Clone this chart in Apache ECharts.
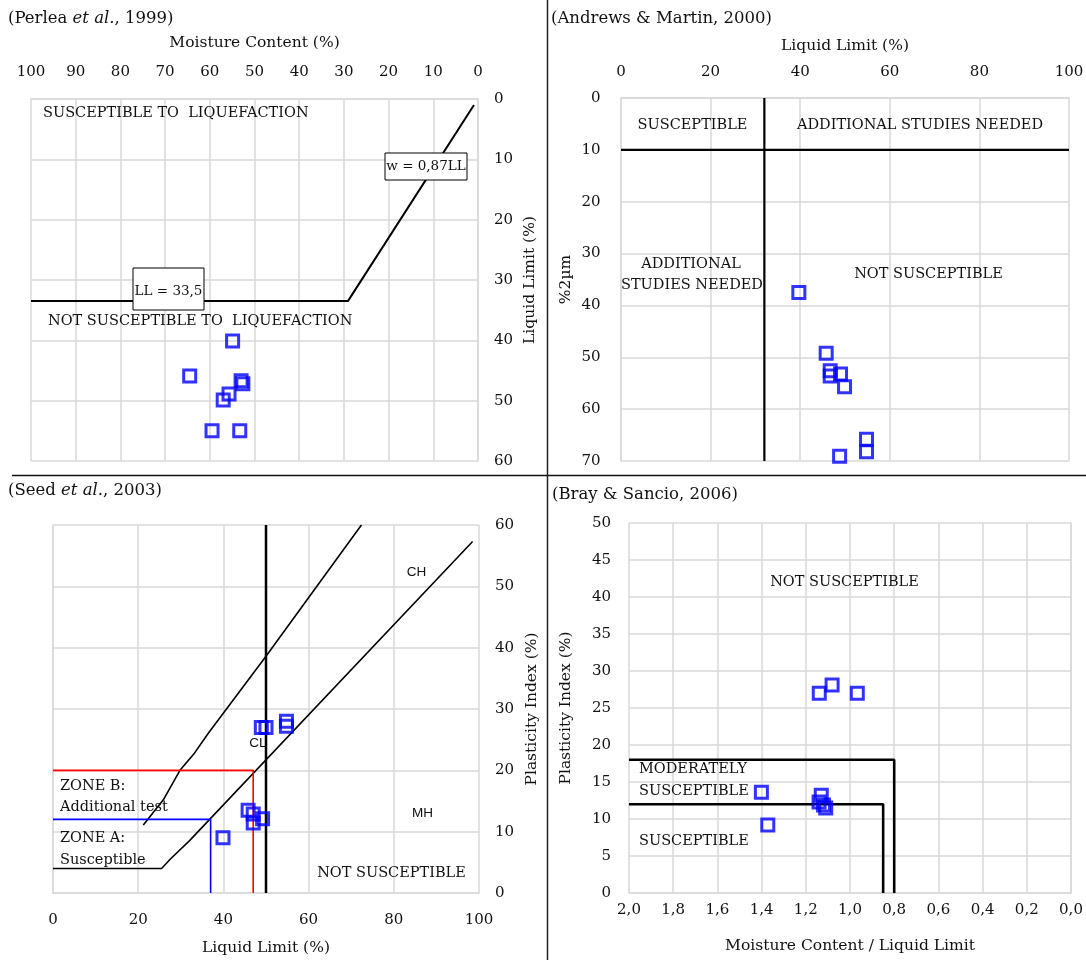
<!DOCTYPE html>
<html>
<head>
<meta charset="utf-8">
<script src="https://cdn.jsdelivr.net/npm/echarts@6/dist/echarts.min.js"></script>
<style>
  html, body { margin: 0; padding: 0; background: #fff; }
  #chart { width: 1086px; height: 960px; }
</style>
</head>
<body>
<div id="chart"></div>
<script>
// ---- Perlea et al. (1999): moisture content (%) vs liquid limit (%) ----
const perleaMoisture = [54.9, 64.5, 53.0, 52.6, 55.7, 57.0, 59.5, 53.3];
const perleaLL       = [40.1, 45.9, 46.7, 47.2, 48.9, 49.9, 55.0, 55.0];
const perleaBoundaryW  = [100, 29.1, 0.9];
const perleaBoundaryLL = [33.5, 33.5, 1.0];

// ---- Andrews & Martin (2000): liquid limit (%) vs clay fraction %2µm ----
const andrewsLL   = [39.7, 45.8, 46.7, 46.7, 49.0, 49.9, 54.8, 54.8, 48.8];
const andrewsClay = [37.5, 49.2, 52.6, 53.6, 53.2, 55.7, 65.8, 68.2, 69.1];
const andrewsLimitLL   = 32;
const andrewsLimitClay = 10;

// ---- Seed et al. (2003): liquid limit (%) vs plasticity index (%) ----
const seedLL = [39.9, 45.8, 47.0, 47.0, 49.2, 48.9, 50.0, 54.8, 54.8];
const seedPI = [9.0, 13.5, 12.9, 11.4, 12.1, 27.0, 27.0, 28.0, 27.2];
const seedALineLL = [0, 25.5, 27.5, 32, 98.5];
const seedALinePI = [4, 4, 5.5, 8.5, 57.3];
const seedULineLL = [21.2, 25.9, 29.9, 33.2, 36.5, 50, 72.4];
const seedULinePI = [11.1, 15.2, 20.1, 22.8, 26.1, 38.6, 60];
const seedZoneALL = [0, 37, 37];
const seedZoneAPI = [12, 12, 0];
const seedZoneBLL = [0, 47, 47];
const seedZoneBPI = [20, 20, 0];
const seedLimitLL = [50, 50];
const seedLimitPI = [0, 60];

// ---- Bray & Sancio (2006): w/LL vs plasticity index (%) ----
const brayRatio = [1.139, 1.081, 0.967, 1.401, 1.372, 1.13, 1.14, 1.12, 1.11];
const brayPI    = [27.0, 28.1, 27.0, 13.6, 9.2, 13.2, 12.3, 11.9, 11.5];
const brayModerateRatio = [2.0, 0.8, 0.8];
const brayModeratePI    = [18, 18, 0];
const braySusceptRatio  = [2.0, 0.85, 0.85];
const braySusceptPI     = [12, 12, 0];

const SERIF = 'DejaVu Serif';
const SANS = 'Liberation Sans';
const INK = '#111';
const GRIDC = '#d9d9d9';

function pairs(xs, ys) { return xs.map((x, i) => [x, ys[i]]); }

function axis(opts, labelOpts, nameOpts) {
  return Object.assign({
    type: 'value',
    axisLine: { show: true, lineStyle: { color: GRIDC, width: 1.5 } },
    axisTick: { show: false },
    splitLine: { show: true, lineStyle: { color: GRIDC, width: 1.5 } },
    axisLabel: Object.assign({ color: INK, fontFamily: SERIF, fontSize: 15 }, labelOpts || {}),
    nameLocation: 'middle',
    nameTextStyle: Object.assign({ color: INK, fontFamily: SERIF, fontSize: 15.5 }, nameOpts || {})
  }, opts);
}

function samples(idx, xs, ys) {
  return {
    type: 'scatter', xAxisIndex: idx, yAxisIndex: idx,
    data: pairs(xs, ys),
    symbol: 'rect', symbolSize: 12,
    itemStyle: { color: 'rgba(0,0,0,0)', borderColor: '#0000ff', borderWidth: 3 },
    z: 5
  };
}

function boundary(idx, xs, ys, color, width) {
  return {
    type: 'line', xAxisIndex: idx, yAxisIndex: idx,
    data: pairs(xs, ys), symbol: 'none', silent: true,
    lineStyle: { color: color, width: width }, z: 3
  };
}

function text(str, x, y, extra) {
  const st = Object.assign({
    text: str, fontFamily: SERIF, fontSize: 15, fill: INK,
    align: 'left', textAlign: 'left', verticalAlign: 'middle', textVerticalAlign: 'middle'
  }, extra || {});
  if (st.align !== 'left') st.textAlign = st.align;
  return { type: 'text', x: x, y: y, z: 60, style: st };
}
function center(str, x, y, extra) { return text(str, x, y, Object.assign({ align: 'center' }, extra || {})); }

function panelTitle(str, left, top) {
  return {
    text: str, left: left, top: top, padding: 0,
    textStyle: {
      fontFamily: SERIF, fontSize: 16.5, fontWeight: 'normal', color: INK,
      rich: { i: { fontFamily: SERIF, fontSize: 16.5, fontStyle: 'italic', color: INK } }
    }
  };
}

const option = {
  animation: false,
  backgroundColor: '#fff',
  textStyle: { fontFamily: SERIF },
  title: [
    panelTitle('(Perlea {i|et al.}, 1999)', 8, 10),
    panelTitle('(Andrews & Martin, 2000)', 551, 10),
    panelTitle('(Seed {i|et al.}, 2003)', 8, 482),
    panelTitle('(Bray & Sancio, 2006)', 552, 486)
  ],
  grid: [
    { left: 31,  top: 99,  width: 447, height: 362, outerBoundsMode: 'none' },
    { left: 621, top: 98,  width: 448, height: 363, outerBoundsMode: 'none' },
    { left: 53,  top: 525, width: 426, height: 368, outerBoundsMode: 'none' },
    { left: 629, top: 523, width: 442, height: 370, outerBoundsMode: 'none' }
  ],
  xAxis: [
    axis({ gridIndex: 0, position: 'top', inverse: true, min: 0, max: 100, interval: 10,
           name: 'Moisture Content (%)', nameGap: 48.5 }, { margin: 19 }),
    axis({ gridIndex: 1, position: 'top', min: 0, max: 100, interval: 20,
           name: 'Liquid Limit (%)', nameGap: 44 }, { margin: 18.5 }),
    axis({ gridIndex: 2, position: 'bottom', min: 0, max: 100, interval: 20,
           name: 'Liquid Limit (%)', nameGap: 47 }, { margin: 19.5 }),
    axis({ gridIndex: 3, position: 'bottom', inverse: true, min: 0, max: 2, interval: 0.2,
           name: 'Moisture Content / Liquid Limit', nameGap: 45 },
         { margin: 10, formatter: v => v.toFixed(1).replace('.', ',') })
  ],
  yAxis: [
    axis({ gridIndex: 0, position: 'right', inverse: true, min: 0, max: 60, interval: 10,
           name: 'Liquid Limit (%)', nameGap: 44, nameRotate: 90 }, { margin: 16 }),
    axis({ gridIndex: 1, position: 'left', inverse: true, min: 0, max: 70, interval: 10,
           name: '%2µm', nameGap: 47, nameRotate: 90 }, { margin: 20.5 }),
    axis({ gridIndex: 2, position: 'right', min: 0, max: 60, interval: 10,
           name: 'Plasticity Index (%)', nameGap: 45, nameRotate: 90 }, { margin: 16 }),
    axis({ gridIndex: 3, position: 'left', min: 0, max: 50, interval: 5,
           name: 'Plasticity Index (%)', nameGap: 55, nameRotate: 90 }, { margin: 18 })
  ],
  series: [
    // Perlea criterion: LL = 33.5 and w = 0.87 LL
    boundary(0, perleaBoundaryW, perleaBoundaryLL, '#000', 2),
    samples(0, perleaMoisture, perleaLL),

    // Andrews & Martin criterion lines
    boundary(1, [andrewsLimitLL, andrewsLimitLL], [0, 70], '#000', 2.2),
    boundary(1, [0, 100], [andrewsLimitClay, andrewsLimitClay], '#000', 2.2),
    samples(1, andrewsLL, andrewsClay),

    // Seed et al. chart: A-line, U-line, zones and LL = 50
    boundary(2, seedALineLL, seedALinePI, '#000', 1.6),
    boundary(2, seedULineLL, seedULinePI, '#000', 1.6),
    boundary(2, seedZoneBLL, seedZoneBPI, '#ff0000', 1.6),
    boundary(2, seedZoneALL, seedZoneAPI, '#0000ff', 1.6),
    boundary(2, seedLimitLL, seedLimitPI, '#000', 2.5),
    samples(2, seedLL, seedPI),

    // Bray & Sancio zones
    boundary(3, brayModerateRatio, brayModeratePI, '#000', 2.6),
    boundary(3, braySusceptRatio, braySusceptPI, '#000', 2.6),
    samples(3, brayRatio, brayPI)
  ],
  graphic: [
    // panel dividers
    { type: 'line', z: 70, shape: { x1: 12, y1: 475.5, x2: 1086, y2: 475.5 }, style: { stroke: '#111', lineWidth: 1.5 } },
    { type: 'line', z: 70, shape: { x1: 547.5, y1: 0, x2: 547.5, y2: 960 }, style: { stroke: '#222', lineWidth: 1.5 } },

    // Perlea annotations
    text('SUSCEPTIBLE TO  LIQUEFACTION', 43, 113.5, { fontSize: 14.5 }),
    text('NOT SUSCEPTIBLE TO  LIQUEFACTION', 48, 321, { fontSize: 14.5 }),
    { type: 'rect', z: 40, shape: { x: 133, y: 268, width: 71, height: 42 }, style: { fill: '#fff', stroke: '#000', lineWidth: 1 } },
    center('LL = 33,5', 168.5, 291, { fontSize: 13.5 }),
    { type: 'rect', z: 40, shape: { x: 385, y: 153, width: 82, height: 27 }, style: { fill: '#fff', stroke: '#000', lineWidth: 1 } },
    center('w = 0,87LL', 426, 166.5, { fontSize: 13.5 }),

    // Andrews & Martin annotations
    center('SUSCEPTIBLE', 692.5, 125, { fontSize: 14.5 }),
    center('ADDITIONAL STUDIES NEEDED', 920, 125, { fontSize: 14.5 }),
    center('ADDITIONAL', 691, 264.5, { fontSize: 14.5 }),
    center('STUDIES NEEDED', 692, 285, { fontSize: 14.5 }),
    center('NOT SUSCEPTIBLE', 928.5, 274.5, { fontSize: 14.5 }),

    // Seed et al. annotations
    center('CH', 416.5, 572.5, { fontFamily: SANS, fontSize: 13.5 }),
    center('CL', 258, 743, { fontFamily: SANS, fontSize: 13.5 }),
    center('MH', 422.5, 813.5, { fontFamily: SANS, fontSize: 13.5 }),
    center('NOT SUSCEPTIBLE', 391.5, 873.5, { fontSize: 14.5 }),
    text('ZONE B:', 60, 786, { fontSize: 14.5 }),
    text('Additional test', 60, 807, { fontSize: 14.5 }),
    text('ZONE A:', 60, 838, { fontSize: 14.5 }),
    text('Susceptible', 60, 860, { fontSize: 14.5 }),

    // Bray & Sancio annotations
    center('NOT SUSCEPTIBLE', 844.5, 582, { fontSize: 14.5 }),
    text('MODERATELY', 639, 769.5, { fontSize: 14.5 }),
    text('SUSCEPTIBLE', 639, 791, { fontSize: 14.5 }),
    text('SUSCEPTIBLE', 639, 841, { fontSize: 14.5 })
  ]
};

const chart = echarts.init(document.getElementById('chart'));
chart.setOption(option);
</script>
</body>
</html>
